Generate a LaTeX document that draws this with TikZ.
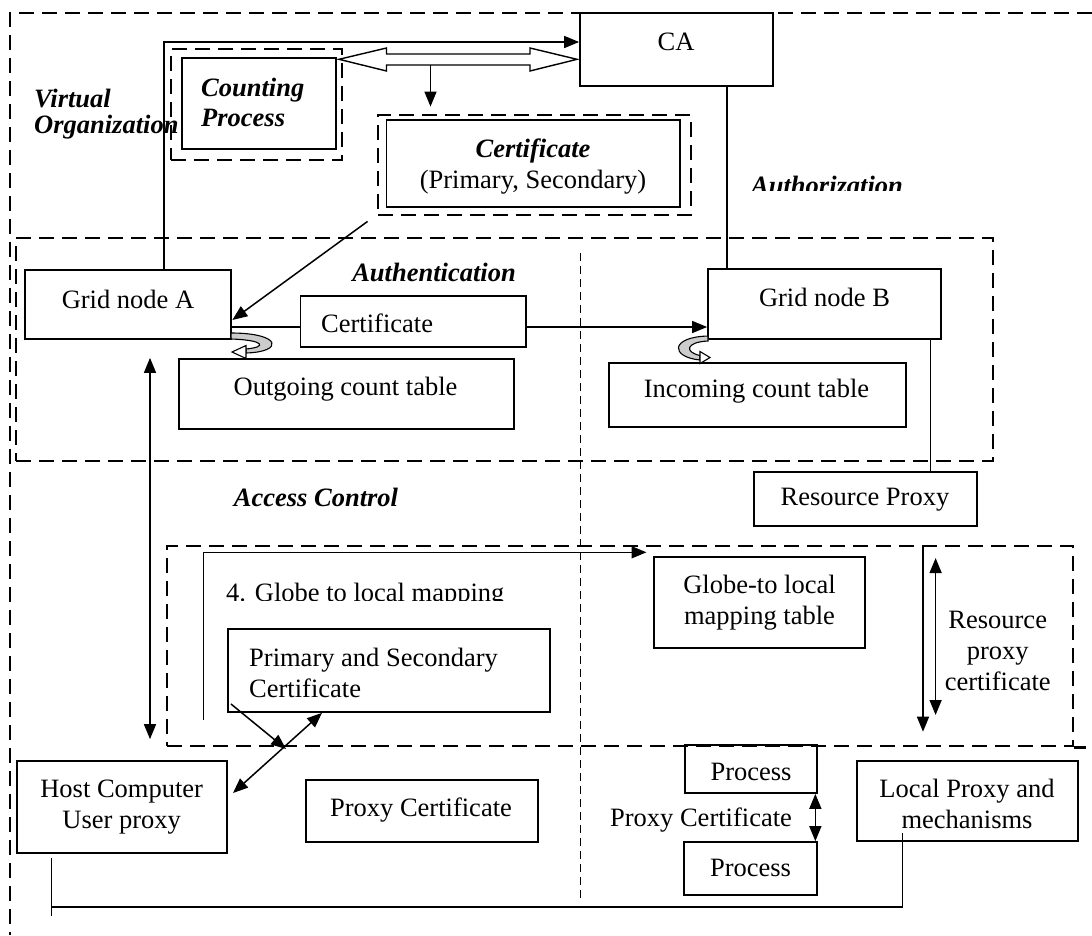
\documentclass[tikz,border=0pt]{standalone}
\usepackage{fontspec}
\setmainfont{Liberation Serif}
\usetikzlibrary{arrows.meta,fit,calc}

\tikzset{
  box/.style={draw,line width=1.7pt,inner sep=0pt},
  dframe/.style={draw,line width=2.8pt,dash pattern=on 15pt off 8pt,inner sep=0pt},
  divider/.style={line width=1.3pt,dash pattern=on 8pt off 5pt},
  arr/.style={line width=1.5pt,-{Triangle[length=15pt,width=12pt]}},
  darr/.style={line width=1.5pt,{Triangle[length=15pt,width=12pt]}-{Triangle[length=15pt,width=12pt]}},
  lbl/.style={font=\fontsize{26.5}{30}\selectfont\bfseries\itshape},
  every node/.append style={font=\fontsize{26.5}{31}\selectfont}
}

\begin{document}
\begin{tikzpicture}[x=1pt,y=-1pt]
  \useasboundingbox (0,0) rectangle (1092,935);

  % regions
  \draw[dframe] (1092,13) -- (10,13) -- (10,935);
  \node[dframe,fit={(16,238) (993,461)}] (auth) {};
  \node[dframe,fit={(167,546) (1073,746)}] (acc) {};
  \draw[dframe] (acc.south east) -- ++(12,0);
  \draw[divider] (580.5,253) -- (580.5,902);

  % virtual organization
  \node[box,fit={(580,13) (773,86)}] (ca) {};
  \node at (676,42) {CA};
  \node[dframe,fit={(171,49) (342,160)}] (cpd) {};
  \node[box,fit={(182,58) (336,149)}] (cp) {};
  \node[lbl,align=left,anchor=west,inner sep=0pt] at (201,102) {Counting\\Process};
  \node[lbl,align=left,anchor=west,inner sep=0pt] at (34,114) {Virtual\\[-4pt]Organization};
  \node[dframe,fit={(378,115) (691,215)}] (certd) {};
  \node[box,fit={(386.5,120) (680,207)}] (cert) {};
  \node[align=center] at (533,167) {\textbf{\textit{Certificate}}\\(Primary, Secondary)};
  \begin{scope}
    \clip (740,160) rectangle (915,190.5);
    \node[lbl,anchor=base west,inner sep=0pt] at (751,194.5) {Authorization};
  \end{scope}

  \draw[line width=1.4pt,fill=white] (339,59.3) -- (386.5,48) -- (386.5,54) -- (530,54) -- (530,48)
    -- (577,59.3) -- (530,71) -- (530,65) -- (386.5,65) -- (386.5,71) -- cycle;
  \coordinate (sh) at (430.5,65);
  \draw[arr,shorten >=7pt] (sh) -- (sh |- certd.north);

  % authentication
  \node[lbl] at (434,272) {Authentication};
  \node[box,fit={(25,270) (231,339)}] (ga) {};
  \node at (128,299) {Grid node A};
  \node[box,fit={(708,269) (941,339)}] (gb) {};
  \node at (824.5,297) {Grid node B};
  \node[box,fit={(300.6,296) (526,347)}] (certsm) {};
  \node[anchor=west,inner sep=0pt] at (321,323) {Certificate};
  \node[box,fit={(179,359) (514,429)}] (out) {};
  \node at (345.5,389) {Outgoing count table};
  \node[box,fit={(608.7,363) (906,427)}] (inc) {};
  \node at (756.5,391) {Incoming count table};
  \node[box,fit={(754,472) (977,526)}] (rp) {};
  \node at (865,500) {Resource Proxy};

  \coordinate (vt) at (164,42);
  \draw[arr] (ga.north -| vt) -- (vt) -- (ca.west |- vt);
  \draw[line width=1.5pt] ([xshift=20pt]gb.north west) -- ([xshift=20pt]gb.north west |- ca.south);
  \draw[arr] ($(certd.south west)+(-9,5)$) -- ($(ga.east)+(0.5,15.5)$);
  \coordinate (ly) at (0,327);
  \draw[line width=1.5pt] (ga.east |- ly) -- (certsm.west |- ly);
  \draw[arr] (certsm.east |- ly) -- (gb.west |- ly);
  \draw[line width=1.5pt] ([xshift=-11.6pt]gb.south east) -- ([xshift=-11.6pt]gb.south east |- rp.north);

  \draw[line width=1.1pt,fill=gray!40] (231,333) .. controls (282,333) and (284,352) .. (246,353)
    -- (246,349) .. controls (268,347) and (264,340) .. (231,339) -- cycle;
  \draw[line width=1.1pt,fill=white] (246,345.5) -- (232,352) -- (246,358.5) -- cycle;
  \draw[line width=1.1pt,fill=gray!40] (708,336) .. controls (670,337) and (670,357) .. (700,360)
    -- (700,355.5) .. controls (684,352) and (686,342) .. (708,341) -- cycle;
  \draw[line width=1.1pt,fill=white] (700,351.5) -- (710,357.5) -- (700,363.5) -- cycle;

  % access control
  \node[lbl] at (316,497) {Access Control};
  \begin{scope}
    \clip (220,570) rectangle (510,600.5);
    \node[anchor=base west,inner sep=0pt] at (226,601) {4. Globe to local mapping};
  \end{scope}
  \node[box,fit={(228,629) (550,712)}] (ps) {};
  \node[align=left,anchor=west,inner sep=0pt] at (249,672.5) {Primary and Secondary\\Certificate};
  \node[box,fit={(654,557) (865,648)}] (gm) {};
  \node[align=center] at (759.5,603) {Globe-to local\\mapping table};
  \node[align=center] at (997.7,651) {Resource\\proxy\\certificate};

  \coordinate (al) at (203.3,720);
  \coordinate (at) at (646.5,552.3);
  \draw[arr] (al) |- (at);
  \coordinate (rt) at (923,547);
  \coordinate (rb) at (923,731.7);
  \draw[arr] (rt) -- (rb);
  \coordinate (dt) at (935.6,558);
  \coordinate (db) at (935.6,715);
  \draw[darr] (dt) -- (db);

  % host side
  \node[box,fit={(17,761) (227,853)}] (host) {};
  \node[align=center] at (121.7,807) {Host Computer\\User proxy};
  \node[box,fit={(306,780) (538,842)}] (pc) {};
  \node at (421,810.5) {Proxy Certificate};
  \node[box,fit={(685,745) (817,793)}] (pr1) {};
  \node at (751,772) {Process};
  \node[box,fit={(684,842) (817,895)}] (pr2) {};
  \node at (750.5,868) {Process};
  \node at (701,820) {Proxy Certificate};
  \node[box,fit={(857,761) (1078,841)}] (lp) {};
  \node[align=center] at (967,804) {Local Proxy and\\mechanisms};

  \coordinate (vx) at (150,0);
  \draw[darr,shorten <=18pt,shorten >=21pt] (ga.south -| vx) -- (host.north -| vx);
  \coordinate (xs) at (231,704);
  \coordinate (xc) at (286,749);
  \draw[arr] (xs) -- (xc);
  \coordinate (hx) at (233,793);
  \coordinate (px) at (322,0);
  \draw[darr] (hx) -- (ps.south -| px);
  \draw[darr] ([xshift=-2.5pt]pr1.south east) -- ([xshift=-2.5pt]pr2.north east);

  \coordinate (hb) at (51.7,858);
  \coordinate (lb) at (902.7,833);
  \draw[line width=1.5pt] (hb) -- ++(0,58);
  \draw[line width=1.5pt] (hb) ++(0,49) -| (lb);
\end{tikzpicture}
\end{document}
